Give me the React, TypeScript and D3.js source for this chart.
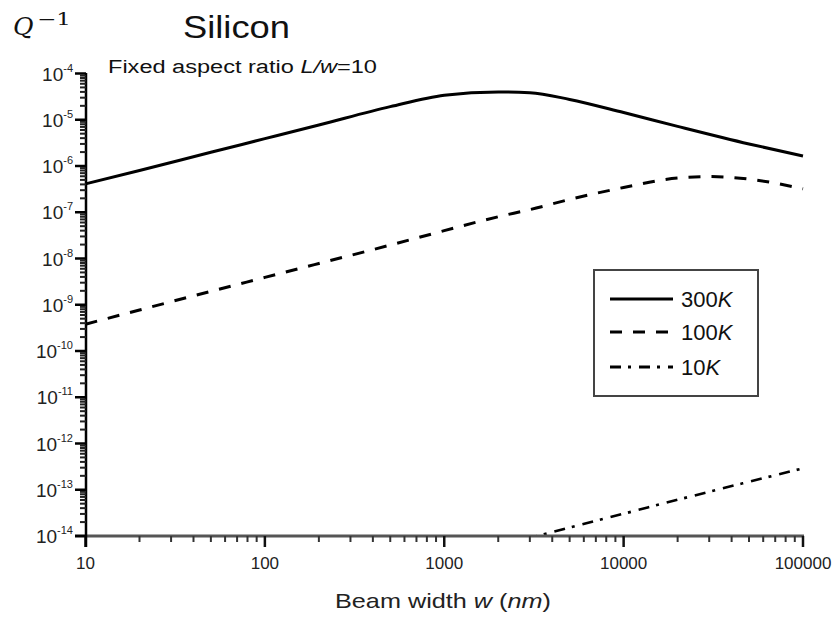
import React from "react";
import * as d3 from "d3";

// Beam width (nm) and dissipation Q^-1 for each temperature
const widths300 = [10, 20, 50, 100, 200, 500, 1000, 2000, 3000, 5000, 10000, 20000, 50000, 100000];
const q300 = [4.1e-7, 8.0e-7, 1.98e-6, 3.9e-6, 7.7e-6, 1.92e-5, 3.4e-5, 4.0e-5, 3.85e-5, 2.75e-5, 1.43e-5, 7.2e-6, 3.0e-6, 1.64e-6];

const widths100 = [10, 20, 50, 100, 200, 500, 1000, 2000, 3000, 5000, 10000, 20000, 30000, 50000, 100000];
const q100 = [3.8e-10, 7.7e-10, 1.95e-9, 3.9e-9, 7.8e-9, 1.95e-8, 4.0e-8, 8.0e-8, 1.14e-7, 1.89e-7, 3.43e-7, 5.5e-7, 5.9e-7, 5.2e-7, 3.2e-7];

const widths10 = [2000, 5000, 10000, 20000, 50000, 100000];
const q10 = [6.0e-15, 1.52e-14, 3.03e-14, 6.07e-14, 1.49e-13, 2.91e-13];

const xTickValues = [10, 100, 1000, 10000, 100000];
const xTickLabels = ["10", "100", "1000", "10000", "100000"];
const yExponents = [-4, -5, -6, -7, -8, -9, -10, -11, -12, -13, -14];

const legendItems = [
  { value: "300", dash: "none" },
  { value: "100", dash: "12,11" },
  { value: "10", dash: "11,7,3,8" },
];

const W = 835;
const H = 617;
const SANS = "'Liberation Sans', Arial, Helvetica, sans-serif";

export default function App() {
  const x = d3.scaleLog().domain([10, 100000]).range([85.5, 803]);
  const y = d3.scaleLog().domain([1e-14, 1e-4]).range([536, 73.5]);

  const line = d3
    .line<[number, number]>()
    .x((d) => x(d[0]))
    .y((d) => y(d[1]))
    .curve(d3.curveMonotoneX);

  const series = [
    { w: widths300, q: q300, dash: "none", width: 3 },
    { w: widths100, q: q100, dash: "12,11", width: 3 },
    { w: widths10, q: q10, dash: "11,7,3,8", width: 2.6 },
  ];

  const xMinor: number[] = [];
  for (let e = 1; e < 5; e++) for (let k = 2; k <= 9; k++) xMinor.push(k * Math.pow(10, e));
  const yMinor: number[] = [];
  for (let e = -14; e < -4; e++) for (let k = 2; k <= 9; k++) yMinor.push(k * Math.pow(10, e));

  const axisX = 86;
  const axisY = 536;

  return (
    <div style={{ position: "absolute", left: 0, top: 0 }}>
      <svg width={W} height={H} viewBox={`0 0 ${W} ${H}`} style={{ display: "block", background: "#fff" }}>
        <defs>
          <clipPath id="plot-area">
            <rect x={84} y={60} width={722} height={476} />
          </clipPath>
        </defs>

        {/* Q^-1 axis label */}
        <text x={13} y={35} fontFamily="'DejaVu Serif', serif" fontStyle="italic" fontSize={25} fill="#111">Q</text>
        <text x={37} y={25} fontFamily="'DejaVu Serif', serif" fontSize={17} fill="#111" textLength={34} lengthAdjust="spacingAndGlyphs">−1</text>

        {/* Titles */}
        <text x={183} y={38} fontFamily={SANS} fontSize={32} fill="#111" textLength={107} lengthAdjust="spacingAndGlyphs">Silicon</text>
        <text x={108} y={73} fontFamily={SANS} fontSize={18} fill="#111" textLength={269} lengthAdjust="spacingAndGlyphs">
          Fixed aspect ratio <tspan fontStyle="italic">L/w</tspan>=10
        </text>

        {/* Curves */}
        <g clipPath="url(#plot-area)" fill="none" stroke="#000">
          {series.map((s, i) => (
            <path
              key={i}
              d={line(s.w.map((w, j) => [w, s.q[j]] as [number, number])) || ""}
              strokeWidth={s.width}
              strokeDasharray={s.dash}
            />
          ))}
        </g>

        {/* x axis */}
        <line x1={75} x2={804} y1={axisY} y2={axisY} stroke="#555" strokeWidth={3} />
        {xMinor.map((v) => (
          <line key={"xm" + v} x1={x(v)} x2={x(v)} y1={axisY} y2={axisY + 6} stroke="#333" strokeWidth={2} />
        ))}
        {xTickValues.map((v, i) => (
          <g key={"xt" + v}>
            <line x1={x(v)} x2={x(v)} y1={axisY} y2={axisY + 11} stroke="#111" strokeWidth={2.5} />
            <text x={x(v)} y={569} textAnchor="middle" fontFamily={SANS} fontSize={17} fill="#222">
              {xTickLabels[i]}
            </text>
          </g>
        ))}
        <text x={443} y={608} textAnchor="middle" fontFamily={SANS} fontSize={21} fill="#222" textLength={216} lengthAdjust="spacingAndGlyphs">
          Beam width <tspan fontStyle="italic">w</tspan> (<tspan fontStyle="italic">nm</tspan>)
        </text>

        {/* y axis */}
        <line x1={axisX} x2={axisX} y1={73} y2={547} stroke="#000" strokeWidth={2.5} />
        {yMinor.map((v, i) => (
          <line key={"ym" + i} x1={80} x2={axisX} y1={y(v)} y2={y(v)} stroke="#222" strokeWidth={2} />
        ))}
        {yExponents.map((e) => (
          <g key={"yt" + e}>
            <line x1={75} x2={axisX} y1={y(Math.pow(10, e))} y2={y(Math.pow(10, e))} stroke="#000" strokeWidth={2.5} />
            <text x={73} y={y(Math.pow(10, e)) + 7} textAnchor="end" fontFamily={SANS} fontSize={19} fill="#222">
              10<tspan dy={-9} fontSize={11}>{"-" + Math.abs(e)}</tspan>
            </text>
          </g>
        ))}

        {/* Legend */}
        <rect x={594} y={270} width={164} height={126} fill="#fff" stroke="#444" strokeWidth={2} />
        {legendItems.map((item, i) => {
          const ly = [299, 332, 367][i];
          return (
            <g key={"lg" + i}>
              <line x1={610} x2={673} y1={ly} y2={ly} stroke="#000" strokeWidth={3} strokeDasharray={item.dash} />
              <text x={681} y={ly + 8} fontFamily={SANS} fontSize={22} fill="#111">
                {item.value}
                <tspan fontStyle="italic">K</tspan>
              </text>
            </g>
          );
        })}
      </svg>
    </div>
  );
}
